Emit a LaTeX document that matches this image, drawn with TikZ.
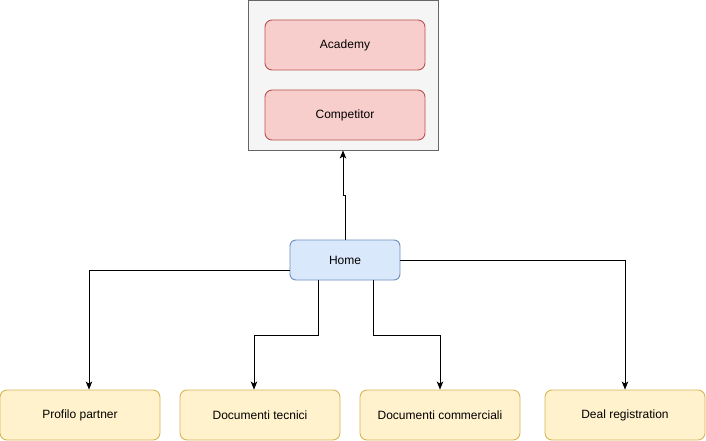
\documentclass[tikz,border=0pt]{standalone}
\usepackage{fontspec}
\setmainfont{Liberation Sans}
\usetikzlibrary{arrows.meta,calc}
\definecolor{grpfill}{HTML}{F5F5F5}
\definecolor{grpline}{HTML}{666666}
\definecolor{redfill}{HTML}{F8CECC}
\definecolor{redline}{HTML}{B85450}
\definecolor{bluefill}{HTML}{DAE8FC}
\definecolor{blueline}{HTML}{6C8EBF}
\definecolor{yelfill}{HTML}{FFF2CC}
\definecolor{yelline}{HTML}{D6B656}
\tikzset{
  base/.style={inner sep=0pt, font=\fontsize{12pt}{14pt}\selectfont, line width=0.9pt},
  grpbox/.style={base, draw=grpline, fill=grpfill, minimum width=190pt, minimum height=150pt},
  redbox/.style={base, draw=redline, fill=redfill, rounded corners=7pt, minimum width=160pt, minimum height=50pt},
  homebox/.style={base, draw=blueline, fill=bluefill, rounded corners=6pt, minimum width=110pt, minimum height=40pt},
  yelbox/.style={base, draw=yelline, fill=yelfill, rounded corners=7pt, minimum width=160pt, minimum height=50pt},
  conn/.style={draw=black, line width=0.9pt, -{Stealth[length=8pt,width=6.5pt,inset=2pt]}}
}
\begin{document}
\begin{tikzpicture}[x=1pt,y=-1pt]
\useasboundingbox (0,0) rectangle (706,441);
\node[grpbox] (grp) at (343,75) {};
\node[redbox] (acad) at (345,45) {Academy};
\node[redbox] (comp) at (345,115) {Competitor};
\node[homebox] (home) at (345,260) {Home};
\node[yelbox] (pp) at (80,415) {Profilo partner};
\node[yelbox] (dt) at (260,415) {Documenti tecnici};
\node[yelbox] (dc) at (440,415) {Documenti commerciali};
\node[yelbox] (dr) at (625,415) {Deal registration};
\coordinate (jog) at ([yshift=44pt]home.north);
\draw[conn] (home.north) -- (jog) -| (grp.south);
\draw[conn] ([yshift=-10pt]home.west) -| ([xshift=9pt]pp.north);
\coordinate (tA) at ([xshift=-27pt,yshift=-55pt]home.south);
\coordinate (tB) at ([xshift=28pt,yshift=-55pt]home.south);
\draw[conn] ([xshift=-27pt]home.south) -- (tA) -| ([xshift=-6pt]dt.north);
\draw[conn] ([xshift=28pt]home.south) -- (tB) -| (dc.north);
\draw[conn] (home.east) -| (dr.north);
\end{tikzpicture}
\end{document}
